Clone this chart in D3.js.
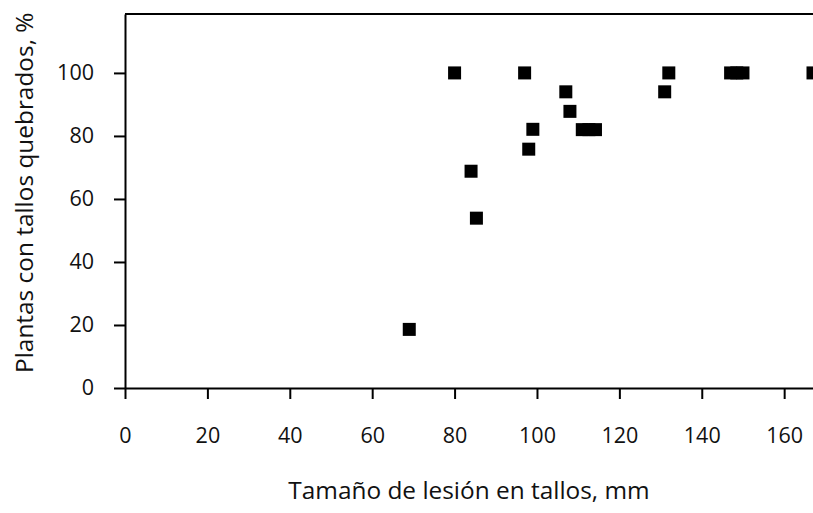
<!DOCTYPE html>
<html><head><meta charset="utf-8">
<script src="https://cdn.jsdelivr.net/npm/d3@7"></script>
<style>
html,body{margin:0;padding:0;background:#fff;}
svg{display:block;}
text{font-family:"Open Sans",sans-serif;fill:#111;}
</style></head>
<body><svg id="chart" width="813" height="513"></svg>
<script>
const lesionMm = [69, 80, 84, 85.3, 97, 98, 99, 107, 108, 111, 112.6, 114.2, 131, 132, 147, 148.5, 150, 167];
const brokenPct = [18.6, 100, 68.8, 53.9, 100, 75.8, 82.1, 94, 87.8, 82, 82, 82, 94, 100, 100, 100, 100, 100];
const xTicks = [0, 20, 40, 60, 80, 100, 120, 140, 160];
const yTicks = [0, 20, 40, 60, 80, 100];
const xLabel = "Tamaño de lesión en tallos, mm";
const yLabel = "Plantas con tallos quebrados, %";

const svg = d3.select("#chart");
const L = 125, R = 813, T = 14, B = 388;
const x = d3.scaleLinear().domain([0, 167]).range([L, R]);
const y = d3.scaleLinear().domain([0, 118.7]).range([B, T]);
const tickFs = 21.5, labelFs = 24.4;

// top frame line
svg.append("line").attr("x1", L).attr("x2", R).attr("y1", T).attr("y2", T)
  .attr("stroke", "#000").attr("stroke-width", 2);

const gx = svg.append("g").attr("transform", `translate(0,${B})`)
  .call(d3.axisBottom(x).tickValues(xTicks).tickSize(11).tickSizeOuter(0).tickPadding(29));
const gy = svg.append("g").attr("transform", `translate(${L},0)`)
  .call(d3.axisLeft(y).tickValues(yTicks).tickSize(11).tickSizeOuter(0).tickPadding(20));
[gx, gy].forEach(g => {
  g.select(".domain").attr("stroke", "#000").attr("stroke-width", 2);
  g.selectAll(".tick line").attr("stroke", "#000").attr("stroke-width", 2);
  g.selectAll("text").attr("font-size", tickFs).attr("font-family", "Open Sans, sans-serif").attr("fill", "#111");
});

const pts = lesionMm.map((v, i) => [v, brokenPct[i]]);
const s = 13;
svg.append("g").selectAll("rect").data(pts).join("rect")
  .attr("x", d => x(d[0]) - s / 2).attr("y", d => y(d[1]) - s / 2)
  .attr("width", s).attr("height", s).attr("fill", "#000");

svg.append("text").attr("x", (L + R) / 2).attr("y", 499).attr("text-anchor", "middle")
  .attr("font-size", labelFs).text(xLabel);
svg.append("text").attr("transform", `translate(33,373) rotate(-90)`)
  .attr("text-anchor", "start").attr("font-size", labelFs).text(yLabel);
</script></body></html>
